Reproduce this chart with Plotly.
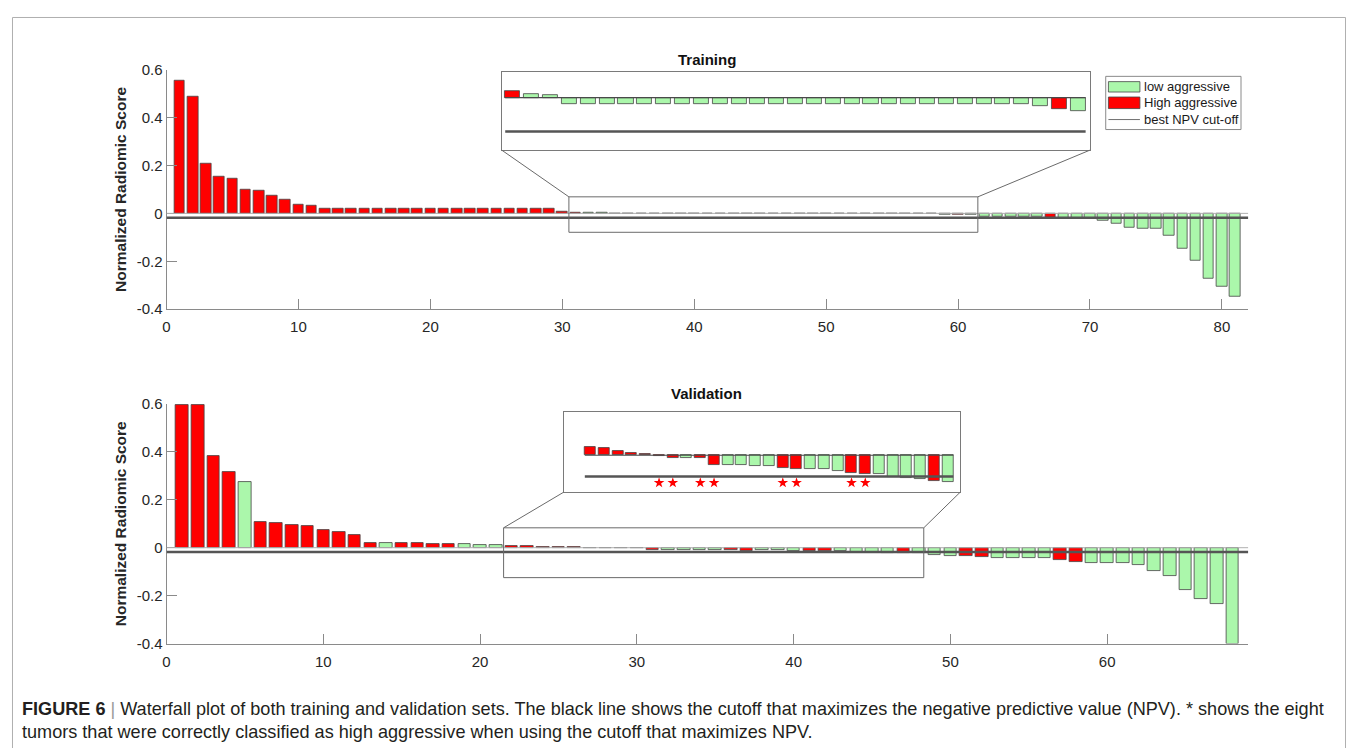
import plotly.graph_objects as go

# ---------------------------------------------------------------- data
train_scores = [
    0.555, 0.488, 0.208, 0.155, 0.147, 0.098, 0.093, 0.072, 0.058, 0.037,
    0.032, 0.020, 0.018, 0.018, 0.018, 0.018, 0.018, 0.018, 0.018, 0.018,
    0.018, 0.018, 0.018, 0.018, 0.018, 0.018, 0.018, 0.018, 0.018, 0.008,
    0.0036, 0.0020, 0.0014, -0.0032, -0.0032, -0.0032, -0.0032, -0.0032, -0.0032, -0.0032,
    -0.0032, -0.0032, -0.0032, -0.0032, -0.0032, -0.0032, -0.0032, -0.0032, -0.0032, -0.0032,
    -0.0032, -0.0032, -0.0032, -0.0032, -0.0032, -0.0032, -0.0032, -0.0032, -0.0043, -0.0061,
    -0.0072, -0.012, -0.012, -0.015, -0.015, -0.015, -0.017, -0.020, -0.020, -0.020,
    -0.032, -0.044, -0.058, -0.062, -0.065, -0.092, -0.147, -0.196, -0.274, -0.306,
    -0.347,
]
train_class = [
    "H", "H", "H", "H", "H", "H", "H", "H", "H", "H",
    "H", "H", "H", "H", "H", "H", "H", "H", "H", "H",
    "H", "H", "H", "H", "H", "H", "H", "H", "H", "H",
    "H", "L", "L", "L", "L", "L", "L", "L", "L", "L",
    "L", "L", "L", "L", "L", "L", "L", "L", "L", "L",
    "L", "L", "L", "L", "L", "L", "L", "L", "L", "H",
    "L", "L", "L", "L", "L", "L", "H", "L", "L", "L",
    "L", "L", "L", "L", "L", "L", "L", "L", "L", "L",
    "L",
]
val_scores = [
    0.594, 0.594, 0.381, 0.315, 0.275, 0.106, 0.104, 0.093, 0.092, 0.075,
    0.065, 0.054, 0.021, 0.021, 0.019, 0.018, 0.017, 0.015, 0.015, 0.012,
    0.011, 0.0071, 0.0062, 0.0034, 0.0023, 0.0011, -0.0008, -0.0020, -0.0020, -0.0025,
    -0.0079, -0.0082, -0.0086, -0.0094, -0.0094, -0.0109, -0.0117, -0.0114, -0.0114, -0.0137,
    -0.0154, -0.0157, -0.0157, -0.0186, -0.0189, -0.0203, -0.0220, -0.0223, -0.031, -0.033,
    -0.035, -0.0375, -0.042, -0.042, -0.042, -0.044, -0.050, -0.058, -0.0625, -0.0625,
    -0.064, -0.072, -0.096, -0.117, -0.178, -0.215, -0.235, -0.400,
]
val_class = [
    "H", "H", "H", "H", "L", "H", "H", "H", "H", "H",
    "H", "H", "H", "L", "H", "H", "H", "H", "L", "L",
    "L", "H", "H", "H", "H", "H", "H", "H", "L", "H",
    "H", "L", "L", "L", "L", "H", "H", "L", "L", "L",
    "H", "H", "L", "L", "L", "L", "H", "L", "L", "L",
    "H", "H", "L", "L", "L", "L", "H", "H", "L", "L",
    "L", "L", "L", "L", "L", "L", "L", "L",
]
train_cutoff = -0.018
val_cutoff = -0.018
train_zoom_bars = [31, 61]   # first / last tumour shown in the magnified inset
val_zoom_bars = [22, 48]

panel_titles = ["Training", "Validation"]
y_title = "Normalized Radiomic Score"
y_ticks = [-0.4, -0.2, 0, 0.2, 0.4, 0.6]
y_ticklabels = ["-0.4", "-0.2", "0", "0.2", "0.4", "0.6"]
train_xticks = [0, 10, 20, 30, 40, 50, 60, 70, 80]
val_xticks = [0, 10, 20, 30, 40, 50, 60]
legend_labels = ["low aggressive", "High aggressive", "best NPV cut-off"]
caption_lines = [
    "<b>FIGURE 6</b> <span style='color:#9a9a9a'>|</span> Waterfall plot of both training and validation sets. "
    "The black line shows the cutoff that maximizes the negative predictive value (NPV). * shows the eight",
    "tumors that were correctly classified as high aggressive when using the cutoff that maximizes NPV.",
]

# ---------------------------------------------------------------- style / layout
PAGE_W, PAGE_H = 1354, 756
OX, OY = 8, 8                       # page margin around the figure
W, H = PAGE_W - 2 * OX, PAGE_H - 2 * OY
Y_SHIFT, Y_SCALE = 8.7, 0.979       # measured vertical placement of the figure in the photo
GREEN = "#abf7ab"
RED = "#ff0000"
EDGE = "#454545"
AX = "#8a8a8a"
TXT = "#262626"
FONT = "Liberation Sans, Arial, Helvetica, sans-serif"


def px_x(p):
    """target picture x (px) -> paper x"""
    return (p - OX) / W


def px_y(p):
    """target picture y (px) -> paper y"""
    return 1 - ((p - Y_SHIFT) / Y_SCALE - OY) / H


# axes boxes in target pixels (left, right, top, bottom) with their data ranges
boxes = {
    "train": dict(l=163, r=1248, t=69.3, b=309.3, xr=[0, 82], yr=[-0.4, 0.6]),
    "val": dict(l=163, r=1248, t=404.3, b=644.3, xr=[0, 69], yr=[-0.4, 0.6]),
    "train_in": dict(l=499.3, r=1089, t=71.7, b=150, xr=[30.42, 61.62], yr=[-0.0279, 0.01355]),
    "val_in": dict(l=561.3, r=959, t=412.3, b=492.7, xr=[20.06, 48.9], yr=[-0.0313, 0.0367]),
}
zoom_rects = {
    "train": dict(x=[30.5, 61.5], y=[-0.079, 0.069]),
    "val": dict(x=[21.5, 48.3], y=[-0.125, 0.083]),
}
star_offset = 0.0053

fig = go.Figure()
axis_ids = {"train": ("x", "y"), "val": ("x2", "y2"), "train_in": ("x3", "y3"), "val_in": ("x4", "y4")}


def to_paper(key, xv, yv):
    b = boxes[key]
    xd0, xd1 = px_x(b["l"]), px_x(b["r"])
    yd0, yd1 = px_y(b["b"]), px_y(b["t"])
    px = xd0 + (xv - b["xr"][0]) / (b["xr"][1] - b["xr"][0]) * (xd1 - xd0)
    py = yd0 + (yv - b["yr"][0]) / (b["yr"][1] - b["yr"][0]) * (yd1 - yd0)
    return px, py


def add_bars(key, scores, classes, lo=None, hi=None):
    xa, ya = axis_ids[key]
    for cls, col, name in [("L", GREEN, "low aggressive"), ("H", RED, "High aggressive")]:
        xs, ys = [], []
        for i, (s, c) in enumerate(zip(scores, classes)):
            n = i + 1
            if c != cls:
                continue
            if lo is not None and (n < lo or n > hi):
                continue
            xs.append(n)
            ys.append(s)
        fig.add_trace(go.Bar(
            x=xs, y=ys, width=0.8, name=name, showlegend=False,
            marker=dict(color=col, line=dict(color=EDGE, width=0.8)),
            xaxis=xa, yaxis=ya, hoverinfo="x+y",
        ))


add_bars("train", train_scores, train_class)
add_bars("val", val_scores, val_class)
add_bars("train_in", train_scores, train_class, *train_zoom_bars)
add_bars("val_in", val_scores, val_class, *val_zoom_bars)

# stars: high-aggressive tumours with a negative score that still lies above the cut-off
star_x = [i + 1 for i, (s, c) in enumerate(zip(val_scores, val_class))
          if c == "H" and val_cutoff < s < 0 and val_zoom_bars[0] <= i + 1 <= val_zoom_bars[1]]
fig.add_trace(go.Scatter(
    x=star_x, y=[val_cutoff - star_offset] * len(star_x), mode="markers",
    marker=dict(symbol="star", size=8, color=RED, line=dict(width=0)),
    xaxis="x4", yaxis="y4", showlegend=False, hoverinfo="x",
))

layout = dict(
    width=W, height=H, margin=dict(l=0, r=0, t=0, b=0),
    paper_bgcolor="white", plot_bgcolor="rgba(0,0,0,0)",
    barmode="overlay", bargap=0, showlegend=False,
    font=dict(family=FONT, color=TXT),
)


def main_axes(key, xticks):
    b = boxes[key]
    xa, ya = axis_ids[key]
    layout["xaxis" + xa[1:]] = dict(
        domain=[px_x(b["l"]), px_x(b["r"])], range=b["xr"], anchor=ya,
        showline=True, linecolor=AX, linewidth=1, ticks="inside", ticklen=10,
        tickcolor=AX, tickvals=xticks, showgrid=False, zeroline=False,
        tickfont=dict(size=15, color=TXT, family=FONT), ticklabelstandoff=4,
    )
    layout["yaxis" + ya[1:]] = dict(
        domain=[px_y(b["b"]), px_y(b["t"])], range=b["yr"], anchor=xa,
        showline=True, linecolor=AX, linewidth=1, ticks="inside", ticklen=10,
        tickcolor=AX, tickvals=y_ticks, ticktext=y_ticklabels, showgrid=False,
        zeroline=False, tickfont=dict(size=15, color=TXT, family=FONT),
        title=dict(text="<b>" + y_title + "</b>", font=dict(size=15.5, color=TXT, family=FONT), standoff=6),
    )


def inset_axes(key):
    b = boxes[key]
    xa, ya = axis_ids[key]
    common = dict(showline=True, mirror=True, linecolor="#7a7a7a", linewidth=1,
                  ticks="", showticklabels=False, showgrid=False, zeroline=False)
    layout["xaxis" + xa[1:]] = dict(domain=[px_x(b["l"]), px_x(b["r"])], range=b["xr"], anchor=ya, **common)
    layout["yaxis" + ya[1:]] = dict(domain=[px_y(b["b"]), px_y(b["t"])], range=b["yr"], anchor=xa, **common)


main_axes("train", train_xticks)
main_axes("val", val_xticks)
inset_axes("train_in")
inset_axes("val_in")

shapes = []
annotations = []

for key, cut, zb in [("train", train_cutoff, train_zoom_bars), ("val", val_cutoff, val_zoom_bars)]:
    xa, ya = axis_ids[key]
    b = boxes[key]
    shapes.append(dict(type="line", xref=xa, yref=ya, x0=b["xr"][0], x1=b["xr"][1], y0=0, y1=0,
                       line=dict(color="#b0b0b0", width=1), layer="above"))
    shapes.append(dict(type="line", xref=xa, yref=ya, x0=b["xr"][0], x1=b["xr"][1], y0=cut, y1=cut,
                       line=dict(color="#555555", width=2.5), layer="above"))
    zr = zoom_rects[key]
    shapes.append(dict(type="rect", xref=xa, yref=ya, x0=zr["x"][0], x1=zr["x"][1],
                       y0=zr["y"][0], y1=zr["y"][1], line=dict(color="#6a6a6a", width=1),
                       fillcolor="rgba(0,0,0,0)", layer="above"))
    ik = key + "_in"
    ixa, iya = axis_ids[ik]
    shapes.append(dict(type="line", xref=ixa, yref=iya, x0=zb[0] - 0.4, x1=zb[1] + 0.4, y0=0, y1=0,
                       line=dict(color="#4a4a4a", width=1.2), layer="above"))
    shapes.append(dict(type="line", xref=ixa, yref=iya, x0=zb[0] - 0.4, x1=zb[1] + 0.4, y0=cut, y1=cut,
                       line=dict(color="#555555", width=2.5), layer="above"))
    ib = boxes[ik]
    for side in (0, 1):
        ix, iy = to_paper(ik, ib["xr"][side], ib["yr"][0])
        zx, zy = to_paper(key, zr["x"][side], zr["y"][1])
        shapes.append(dict(type="line", xref="paper", yref="paper", x0=ix, y0=iy, x1=zx, y1=zy,
                           line=dict(color="#6a6a6a", width=1)))

for title, ypx in zip(panel_titles, [59, 394]):
    annotations.append(dict(text="<b>" + title + "</b>", xref="paper", yref="paper",
                            x=px_x(705), y=px_y(ypx), xanchor="center", yanchor="middle",
                            showarrow=False, font=dict(size=15, color="#111111", family=FONT)))

# legend (drawn as a boxed key, as in the original figure)
lg = dict(l=1105, r=1240.7, t=76, b=129.3)
shapes.append(dict(type="rect", xref="paper", yref="paper", x0=px_x(lg["l"]), x1=px_x(lg["r"]),
                   y0=px_y(lg["b"]), y1=px_y(lg["t"]), line=dict(color="#8a8a8a", width=1),
                   fillcolor="white"))
patch_l, patch_r = 1107.7, 1139.3
for (top, bot), col in zip([(81.3, 91.7), (96.7, 108.3)], [GREEN, RED]):
    shapes.append(dict(type="rect", xref="paper", yref="paper", x0=px_x(patch_l), x1=px_x(patch_r),
                       y0=px_y(bot), y1=px_y(top), line=dict(color=EDGE, width=0.8), fillcolor=col))
shapes.append(dict(type="line", xref="paper", yref="paper", x0=px_x(patch_l), x1=px_x(patch_r),
                   y0=px_y(119.3), y1=px_y(119.3), line=dict(color="#707070", width=1)))
for lab, ypx in zip(legend_labels, [86.5, 102.5, 119]):
    annotations.append(dict(text=lab, xref="paper", yref="paper", x=px_x(1141), y=px_y(ypx),
                            xanchor="left", yanchor="middle", showarrow=False,
                            font=dict(size=13, color="#1a1a1a", family=FONT)))

# thin frame around the figure
shapes.append(dict(type="path", xref="paper", yref="paper",
                   path="M {a},{b} L {a},{c} L {d},{c} L {d},{b}".format(
                       a=0.5 / W, b=-0.1, c=1 - 0.5 / H, d=1 - 0.5 / W),
                   line=dict(color="#b0b0b0", width=1), layer="below"))

for line, ypx in zip(caption_lines, [710, 733]):
    annotations.append(dict(text=line, xref="paper", yref="paper", x=px_x(16), y=px_y(ypx),
                            xanchor="left", yanchor="middle", showarrow=False, align="left",
                            font=dict(size=18.1, color="#231f20", family=FONT)))

layout["shapes"] = shapes
layout["annotations"] = annotations
fig.update_layout(**layout)

fig.write_html("out.html", config={"displayModeBar": False})
